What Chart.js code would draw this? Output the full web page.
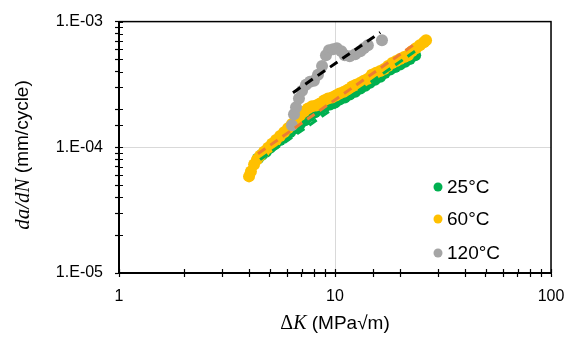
<!DOCTYPE html>
<html>
<head>
<meta charset="utf-8">
<script src="https://cdn.jsdelivr.net/npm/chart.js@4.4.1/dist/chart.umd.min.js"></script>
<style>
  html, body { margin: 0; padding: 0; background: #fff; }
  #wrap { width: 576px; height: 337px; }
</style>
</head>
<body>
<div id="wrap"><canvas id="fcgChart" width="576" height="337"></canvas></div>
<script>
// legend names and colours
const tempLabels = ['25°C', '60°C', '120°C'];
const tempColors = ['#00B050', '#FFC000', '#A5A5A5'];

// 25°C  (ΔK in MPa√m, da/dN in mm/cycle)
const dK25 = [4.40, 4.59, 4.79, 5.00, 5.28, 5.57, 5.87, 6.19, 6.53, 6.89, 7.26, 7.66, 8.08, 8.52, 8.99, 9.48,
  10.0, 10.5, 11.1, 11.7, 12.4, 13.1, 13.8, 14.5, 15.3, 16.2, 17.0, 18.0, 19.0, 20.0, 21.1, 22.2, 23.5];
const rate25 = [8.13e-5, 8.73e-5, 9.22e-5, 9.91e-5, 1.065e-4, 1.145e-4, 1.23e-4, 1.32e-4, 1.42e-4, 1.53e-4,
  1.64e-4, 1.77e-4, 1.90e-4, 2.00e-4, 2.12e-4, 2.19e-4, 2.27e-4, 2.40e-4, 2.49e-4, 2.63e-4, 2.77e-4,
  2.93e-4, 3.09e-4, 3.26e-4, 3.44e-4, 3.64e-4, 3.90e-4, 4.15e-4, 4.35e-4, 4.55e-4, 4.80e-4, 5.05e-4, 5.40e-4];

// 60°C
const dK60 = [4.00, 4.08, 4.22, 4.35, 4.50, 4.69, 4.90, 5.11, 5.33, 5.57, 5.81, 6.06, 6.32, 6.60, 6.89, 7.19,
  7.50, 7.83, 8.17, 8.52, 8.89, 9.28, 9.68, 10.1, 10.5, 11.0, 11.5, 12.0, 12.5, 13.1, 13.6, 14.2, 14.8,
  15.5, 16.2, 16.9, 17.6, 18.4, 19.2, 20.0, 20.9, 21.8, 22.7, 23.7, 24.7, 25.8, 26.4];
const rate60 = [5.87e-5, 6.42e-5, 7.29e-5, 7.98e-5, 8.58e-5, 9.22e-5, 9.91e-5, 1.065e-4, 1.145e-4, 1.23e-4,
  1.32e-4, 1.42e-4, 1.53e-4, 1.64e-4, 1.80e-4, 1.93e-4, 2.04e-4, 2.12e-4, 2.15e-4, 2.23e-4, 2.36e-4,
  2.44e-4, 2.49e-4, 2.58e-4, 2.68e-4, 2.77e-4, 2.88e-4, 3.04e-4, 3.15e-4, 3.26e-4, 3.38e-4, 3.51e-4,
  3.77e-4, 3.91e-4, 4.05e-4, 4.20e-4, 4.44e-4, 4.69e-4, 4.86e-4, 5.03e-4, 5.22e-4, 5.41e-4, 5.82e-4,
  6.14e-4, 6.48e-4, 6.84e-4, 7.10e-4];

// 120°C
const dK120 = [6.32, 6.46, 6.60, 6.81, 7.04, 7.34, 7.66, 7.99, 8.34, 8.71, 9.08, 9.38, 9.79, 10.2, 10.7,
  11.1, 11.7, 12.4, 13.1, 13.6, 14.2, 16.5];
const rate120 = [1.50e-4, 1.83e-4, 2.08e-4, 2.44e-4, 2.82e-4, 3.15e-4, 3.32e-4, 3.38e-4, 3.77e-4, 4.44e-4,
  5.41e-4, 5.92e-4, 6.03e-4, 6.14e-4, 5.82e-4, 5.41e-4, 5.31e-4, 5.51e-4, 5.82e-4, 6.14e-4, 6.48e-4, 7.10e-4];

// power-law trend lines (end points)
const fit25K = [4.5, 24.2], fit25R = [7.98e-5, 6.03e-4];
const fit60K = [4.4, 23.0], fit60R = [8.89e-5, 6.49e-4];
const fit120K = [6.39, 16.2], fit120R = [2.72e-4, 8.2e-4];
const fitColors = ['#00B050', '#ED7D31', '#000000'];

// axis range
const xMin = 1, xMax = 100;
const yMin = 1e-5, yMax = 1e-3;

function toPoints(xs, ys) {
  return xs.map((x, i) => ({ x: x, y: ys[i] }));
}

function isDecade(v) {
  const e = Math.log10(v);
  return Math.abs(e - Math.round(e)) < 1e-6;
}

function pointSet(i, xs, ys, order) {
  return {
    label: tempLabels[i],
    data: toPoints(xs, ys),
    backgroundColor: tempColors[i],
    borderWidth: 0,
    pointRadius: 6,
    pointHoverRadius: 6,
    order: order
  };
}

function fitSet(i, xs, ys) {
  return {
    label: 'fit',
    data: toPoints(xs, ys),
    showLine: true,
    borderColor: fitColors[i],
    borderWidth: 3,
    borderDash: [9, 6],
    pointRadius: 0,
    fill: false,
    order: 0
  };
}

// frame, inner tick marks, axis titles and legend drawn on top
const extras = {
  id: 'extras',
  afterDraw(chart) {
    const ctx = chart.ctx;
    const a = chart.chartArea;
    ctx.save();
    ctx.strokeStyle = '#000';
    ctx.lineWidth = 1.5;
    ctx.strokeRect(a.left, a.top, a.right - a.left, a.bottom - a.top);

    // tick marks cross the axes like the Excel original
    ctx.lineWidth = 1.2;
    ctx.beginPath();
    chart.scales.x.ticks.forEach(t => {
      const px = Math.round(chart.scales.x.getPixelForValue(t.value)) + 0.5;
      ctx.moveTo(px, a.bottom);
      ctx.lineTo(px, a.bottom - 4);
    });
    chart.scales.y.ticks.forEach(t => {
      const py = Math.round(chart.scales.y.getPixelForValue(t.value)) + 0.5;
      ctx.moveTo(a.left, py);
      ctx.lineTo(a.left + 4, py);
    });
    ctx.stroke();

    // legend
    ctx.textBaseline = 'middle';
    ctx.textAlign = 'left';
    ctx.font = '19px "Liberation Sans", Arial, sans-serif';
    const ly = [187, 219, 253];
    tempLabels.forEach((t, i) => {
      ctx.fillStyle = tempColors[i];
      ctx.beginPath();
      ctx.arc(438, ly[i], 4.5, 0, Math.PI * 2);
      ctx.fill();
      ctx.fillStyle = '#000';
      ctx.fillText(t, 447, ly[i] + 1);
    });

    // x title: ΔK (MPa√m)
    const xParts = [
      ['Δ', '20px "Liberation Serif", "Times New Roman", serif'],
      ['K', 'italic 20px "Liberation Serif", "Times New Roman", serif'],
      [' (MPa√m)', '19px "Liberation Sans", Arial, sans-serif']
    ];
    drawParts(ctx, xParts, 335, 324);

    // y title: da/dN (mm/cycle)
    ctx.translate(23, 155);
    ctx.rotate(-Math.PI / 2);
    const yParts = [
      ['da/dN', 'italic 21px "Liberation Serif", "Times New Roman", serif'],
      [' (mm/cycle)', '19px "Liberation Sans", Arial, sans-serif']
    ];
    drawParts(ctx, yParts, 0, 0);
    ctx.restore();
  }
};

function drawParts(ctx, parts, cx, cy) {
  let w = 0;
  parts.forEach(p => { ctx.font = p[1]; w += ctx.measureText(p[0]).width; });
  let x = cx - w / 2;
  ctx.textAlign = 'left';
  ctx.textBaseline = 'middle';
  ctx.fillStyle = '#000';
  parts.forEach(p => {
    ctx.font = p[1];
    ctx.fillText(p[0], x, cy);
    x += ctx.measureText(p[0]).width;
  });
}

const tickFont = { family: '"Liberation Sans", Arial, sans-serif', size: 16 };

new Chart(document.getElementById('fcgChart').getContext('2d'), {
  type: 'scatter',
  data: {
    datasets: [
      pointSet(0, dK25, rate25, 3),
      pointSet(1, dK60, rate60, 2),
      pointSet(2, dK120, rate120, 1),
      fitSet(0, fit25K, fit25R),
      fitSet(1, fit60K, fit60R),
      fitSet(2, fit120K, fit120R)
    ]
  },
  options: {
    responsive: false,
    animation: false,
    layout: { padding: { top: 18, right: 25, left: 0, bottom: 0 } },
    plugins: {
      legend: { display: false },
      tooltip: { enabled: false }
    },
    scales: {
      x: {
        type: 'logarithmic',
        min: xMin,
        max: xMax,
        afterFit(scale) { scale.height = 64; },
        border: { display: true, color: '#000', width: 2 },
        grid: {
          color: c => (c.tick && isDecade(c.tick.value)) ? '#D9D9D9' : 'rgba(0,0,0,0)',
          lineWidth: 1,
          tickColor: '#000',
          tickLength: 4,
          tickWidth: 1.2
        },
        ticks: {
          autoSkip: false,
          maxRotation: 0,
          padding: 10,
          color: '#000',
          font: tickFont,
          callback: v => isDecade(v) ? String(Math.round(v)) : ''
        }
      },
      y: {
        type: 'logarithmic',
        min: yMin,
        max: yMax,
        afterFit(scale) { scale.width = 119; },
        border: { display: true, color: '#000', width: 2 },
        grid: {
          color: c => (c.tick && isDecade(c.tick.value)) ? '#D9D9D9' : 'rgba(0,0,0,0)',
          lineWidth: 1,
          tickColor: '#000',
          tickLength: 4,
          tickWidth: 1.2
        },
        ticks: {
          autoSkip: false,
          padding: 12,
          color: '#000',
          font: tickFont,
          callback: v => isDecade(v) ? '1.E-' + String(-Math.round(Math.log10(v))).padStart(2, '0') : ''
        }
      }
    }
  },
  plugins: [extras]
});
</script>
</body>
</html>
